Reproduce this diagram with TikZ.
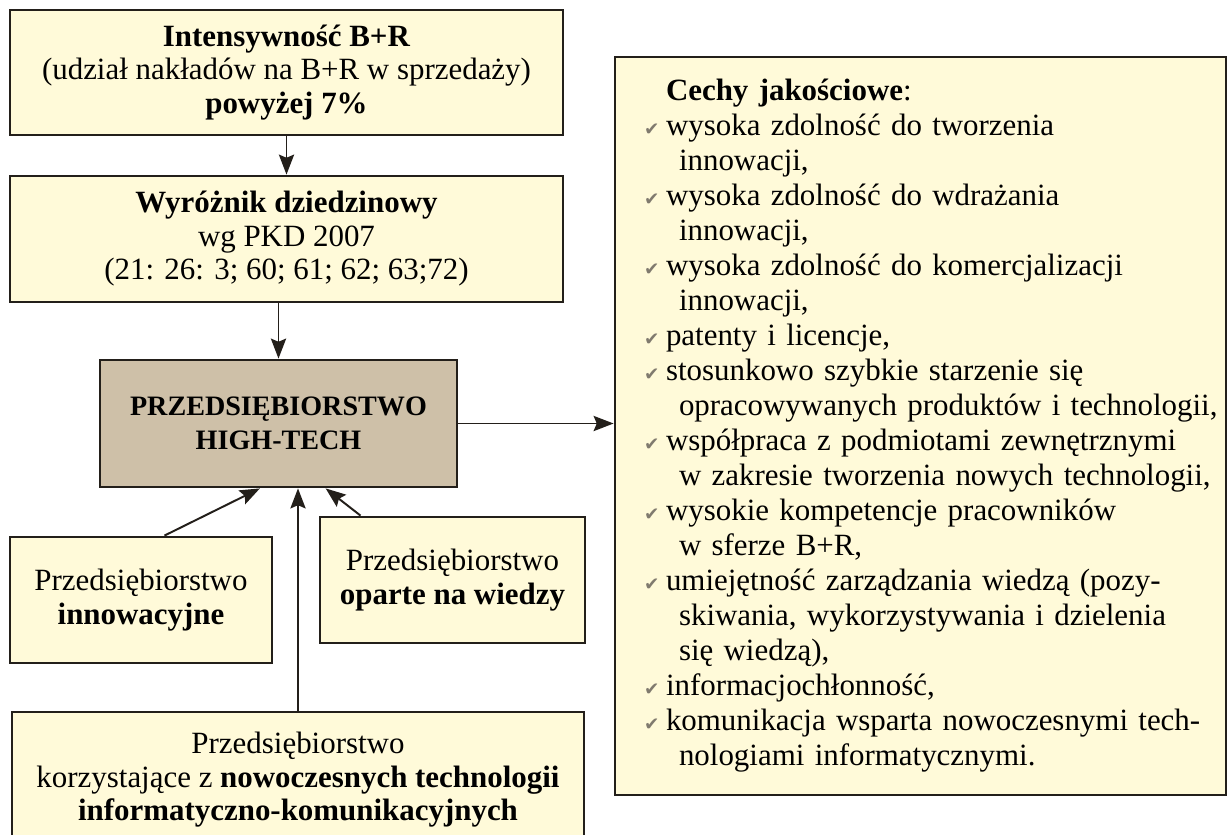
\documentclass[tikz,border=0pt]{standalone}
\usepackage{fontspec}
\setmainfont{Liberation Serif}
\newfontfamily\chkfont{DejaVu Sans}
\usepackage{xcolor}
\usetikzlibrary{arrows.meta,positioning}

\definecolor{creamfill}{RGB}{255,250,217}
\definecolor{tanfill}{RGB}{206,192,168}
\definecolor{inkline}{RGB}{35,31,26}
\definecolor{chkgray}{RGB}{128,122,110}

\newcommand{\boxfont}{\fontsize{22}{23.8}\selectfont}
\newcommand{\trait}[1]{\mbox{\makebox[5.5mm][l]{\raisebox{0.05ex}{\chkfont\fontsize{13}{13}\selectfont\color{chkgray}✔}}#1}}
\newcommand{\traitcont}[1]{\mbox{\hspace*{8.75mm}#1}}

\begin{document}
\begin{tikzpicture}[
    x=0.25mm, y=-0.25mm,
    criterion/.style={draw=inkline, line width=2pt, fill=creamfill, inner sep=0pt, align=center, font=\boxfont},
    core/.style={criterion, fill=tanfill, font=\fontsize{20}{24.5}\selectfont\bfseries},
    kind/.style={criterion, minimum height=31.5mm},
    traits/.style={criterion, align=left, inner xsep=7.25mm, text width=138.25mm, minimum height=184.5mm, font=\fontsize{22}{24.9}\selectfont},
    edge/.style={-{Stealth[length=5mm,width=3.8mm,inset=0.8mm]}, line width=1.4pt, draw=inkline}
]
    \useasboundingbox (0,0) rectangle (1232,834);

    % Criteria
    \node[criterion, minimum width=138.25mm, minimum height=31.25mm] (intens) at (286.5,72.5)
        {\textbf{Intensywność B+R}\\(udział nakładów na B+R w sprzedaży)\\\textbf{powyżej 7\%}};
    \node[criterion, minimum width=138.25mm, minimum height=31.5mm] (pkd) at (286.5,239)
        {\textbf{Wyróżnik dziedzinowy}\\wg PKD 2007\\(21: 26: 3; 60; 61; 62; 63;72)};

    % Central enterprise
    \node[core, minimum width=89.25mm, minimum height=31.75mm] (hightech) at (278.5,423.5)
        {PRZEDSIĘBIORSTWO\\HIGH-TECH};

    % Kinds of enterprise
    \node[kind, minimum width=65.5mm] (innow) at (141,600)
        {Przedsiębiorstwo\\\textbf{innowacyjne}};
    \node[kind, minimum width=66.25mm] (wiedza) at (452.5,580)
        {Przedsiębiorstwo\\\textbf{oparte na wiedzy}};
    \node[kind, minimum width=143mm, minimum height=34mm] (ikt) at (298,780)
        {Przedsiębiorstwo\\korzystające z \textbf{nowoczesnych technologii}\\\textbf{informatyczno-komunikacyjnych}};

    % Qualitative features
    \node[traits] (cechy) at (920.5,426)
        {\mbox{\hspace*{5.5mm}\textbf{Cechy jakościowe}:}\\
         \trait{wysoka zdolność do tworzenia}\\
         \traitcont{innowacji,}\\
         \trait{wysoka zdolność do wdrażania}\\
         \traitcont{innowacji,}\\
         \trait{wysoka zdolność do komercjalizacji}\\
         \traitcont{innowacji,}\\
         \trait{patenty i licencje,}\\
         \trait{stosunkowo szybkie starzenie się}\\
         \traitcont{opracowywanych produktów i technologii,}\\
         \trait{współpraca z podmiotami zewnętrznymi}\\
         \traitcont{w zakresie tworzenia nowych technologii,}\\
         \trait{wysokie kompetencje pracowników}\\
         \traitcont{w sferze B+R,}\\
         \trait{umiejętność zarządzania wiedzą (pozy-}\\
         \traitcont{skiwania, wykorzystywania i dzielenia}\\
         \traitcont{się wiedzą),}\\
         \trait{informacjochłonność,}\\
         \trait{komunikacja wsparta nowoczesnymi tech-}\\
         \traitcont{nologiami informatycznymi.}};

    % Connectors
    \draw[edge] (intens.south) -- (pkd.north);
    \draw[edge] (hightech.north |- pkd.south) -- (hightech.north);
    \draw[edge] (hightech.east) -- (hightech.east -| cechy.west);
    \draw[edge] (innow.70) -- (hightech.254);
    \draw[edge] (wiedza.145) -- (hightech.306);
    \draw[edge] (ikt.north) -- (ikt.north |- hightech.south);
\end{tikzpicture}
\end{document}
